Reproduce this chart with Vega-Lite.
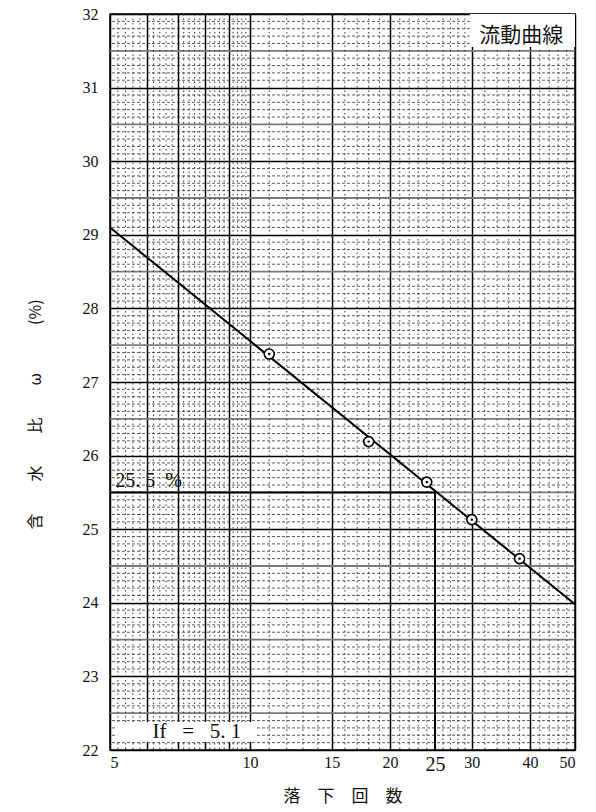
{
  "$schema": "https://vega.github.io/schema/vega-lite/v6.json",
  "width": 465,
  "height": 736,
  "autosize": {"type": "none"},
  "padding": {"left": 110, "top": 14, "right": 21, "bottom": 62},
  "background": "white",
  "config": {
    "view": {"stroke": "black", "strokeWidth": 1.5}
  },
  "datasets": {
    "one": [{}],
    "pts": [
      {"n": 11, "w": 27.38},
      {"n": 18, "w": 26.19},
      {"n": 24, "w": 25.64},
      {"n": 30, "w": 25.13},
      {"n": 38, "w": 24.60}
    ],
    "fit": [
      {"n": 5, "w": 29.10},
      {"n": 50, "w": 23.98}
    ],
    "hTenth": [
      {"w": 22.1},{"w": 22.2},{"w": 22.3},{"w": 22.4},{"w": 22.6},{"w": 22.7},{"w": 22.8},{"w": 22.9},
      {"w": 23.1},{"w": 23.2},{"w": 23.3},{"w": 23.4},{"w": 23.6},{"w": 23.7},{"w": 23.8},{"w": 23.9},
      {"w": 24.1},{"w": 24.2},{"w": 24.3},{"w": 24.4},{"w": 24.6},{"w": 24.7},{"w": 24.8},{"w": 24.9},
      {"w": 25.1},{"w": 25.2},{"w": 25.3},{"w": 25.4},{"w": 25.6},{"w": 25.7},{"w": 25.8},{"w": 25.9},
      {"w": 26.1},{"w": 26.2},{"w": 26.3},{"w": 26.4},{"w": 26.6},{"w": 26.7},{"w": 26.8},{"w": 26.9},
      {"w": 27.1},{"w": 27.2},{"w": 27.3},{"w": 27.4},{"w": 27.6},{"w": 27.7},{"w": 27.8},{"w": 27.9},
      {"w": 28.1},{"w": 28.2},{"w": 28.3},{"w": 28.4},{"w": 28.6},{"w": 28.7},{"w": 28.8},{"w": 28.9},
      {"w": 29.1},{"w": 29.2},{"w": 29.3},{"w": 29.4},{"w": 29.6},{"w": 29.7},{"w": 29.8},{"w": 29.9},
      {"w": 30.1},{"w": 30.2},{"w": 30.3},{"w": 30.4},{"w": 30.6},{"w": 30.7},{"w": 30.8},{"w": 30.9},
      {"w": 31.1},{"w": 31.2},{"w": 31.3},{"w": 31.4},{"w": 31.6},{"w": 31.7},{"w": 31.8},{"w": 31.9}
    ],
    "hHalf": [
      {"w": 22.5},{"w": 23.5},{"w": 24.5},{"w": 25.5},{"w": 26.5},
      {"w": 27.5},{"w": 28.5},{"w": 29.5},{"w": 30.5},{"w": 31.5}
    ],
    "vMinor": [
      {"n": 5.2},{"n": 5.4},{"n": 5.6},{"n": 5.8},
      {"n": 6.2},{"n": 6.4},{"n": 6.6},{"n": 6.8},
      {"n": 7.2},{"n": 7.4},{"n": 7.6},{"n": 7.8},
      {"n": 8.2},{"n": 8.4},{"n": 8.6},{"n": 8.8},
      {"n": 9.2},{"n": 9.4},{"n": 9.6},{"n": 9.8},
      {"n": 11},{"n": 12},{"n": 13},{"n": 14},
      {"n": 16},{"n": 17},{"n": 18},{"n": 19},
      {"n": 21},{"n": 22},{"n": 23},{"n": 24},
      {"n": 26},{"n": 27},{"n": 28},{"n": 29},
      {"n": 32},{"n": 34},{"n": 36},{"n": 38},
      {"n": 42},{"n": 44},{"n": 46},{"n": 48}
    ]
  },
  "layer": [
    {
      "data": {"name": "hTenth"},
      "mark": {"type": "rule", "color": "#333", "strokeWidth": 0.8, "strokeDash": [3, 2]},
      "encoding": {
        "y": {
          "field": "w", "type": "quantitative",
          "scale": {"domain": [22, 32], "nice": false, "zero": false},
          "axis": {
            "values": [22, 23, 24, 25, 26, 27, 28, 29, 30, 31, 32],
            "format": "d",
            "grid": true, "gridColor": "#000", "gridWidth": 1.3,
            "domain": false, "ticks": false,
            "labelFont": "Liberation Serif", "labelColor": "#111",
            "labelFontSize": 16, "labelPadding": 12,
            "title": "含　　水　　比　　ω　　　(%)",
            "titleFont": "Noto Sans CJK JP", "titleFontSize": 16, "titleFontWeight": "normal", "titleColor": "#111",
            "titleX": -75, "titleY": 400, "titleAngle": -90,
            "titleAlign": "center", "titleBaseline": "middle"
          }
        }
      }
    },
    {
      "data": {"name": "hHalf"},
      "mark": {"type": "rule", "color": "#7a7a7a", "strokeWidth": 1.8},
      "encoding": {"y": {"field": "w", "type": "quantitative"}}
    },
    {
      "data": {"name": "vMinor"},
      "mark": {"type": "rule", "color": "#222", "strokeWidth": 0.9, "strokeDash": [1.5, 3]},
      "encoding": {
        "x": {
          "field": "n", "type": "quantitative",
          "scale": {"type": "log", "domain": [5, 50], "nice": false},
          "axis": {
            "values": [5, 6, 7, 8, 9, 10, 15, 20, 25, 30, 40, 50],
            "format": "d",
            "labelExpr": "datum.value >= 6 && datum.value <= 9 ? '' : datum.label",
            "labelOverlap": false,
            "grid": true, "gridColor": "#000", "gridWidth": 1.5,
            "gridOpacity": {"condition": {"test": "datum.value == 25", "value": 0}, "value": 1},
            "domain": false, "ticks": false,
            "labelFont": "Liberation Serif", "labelColor": "#111",
            "labelFontSize": {"condition": {"test": "datum.value == 25", "value": 20}, "value": 16},
            "labelPadding": 4,
            "title": "落　下　回　数",
            "titleFont": "Noto Sans CJK JP", "titleFontSize": 17, "titleFontWeight": "normal", "titleColor": "#111",
            "titlePadding": 14
          }
        }
      }
    },
    {
      "data": {"name": "one"},
      "mark": {"type": "rule", "color": "#000", "strokeWidth": 2},
      "encoding": {
        "x": {"datum": 5, "type": "quantitative"},
        "x2": {"datum": 25},
        "y": {"datum": 25.5, "type": "quantitative"}
      }
    },
    {
      "data": {"name": "one"},
      "mark": {"type": "rule", "color": "#000", "strokeWidth": 2},
      "encoding": {
        "x": {"datum": 25, "type": "quantitative"},
        "y": {"datum": 22, "type": "quantitative"},
        "y2": {"datum": 25.5}
      }
    },
    {
      "data": {"name": "one"},
      "mark": {"type": "rect", "fill": "white"},
      "encoding": {
        "x": {"datum": 29.7, "type": "quantitative"},
        "x2": {"datum": 50},
        "y": {"datum": 32, "type": "quantitative"},
        "y2": {"datum": 31.55}
      }
    },
    {
      "data": {"name": "one"},
      "mark": {"type": "rect", "fill": "white"},
      "encoding": {
        "x": {"datum": 5.18, "type": "quantitative"},
        "x2": {"datum": 10.3},
        "y": {"datum": 22.11, "type": "quantitative"},
        "y2": {"datum": 22.38}
      }
    },
    {
      "data": {"name": "fit"},
      "mark": {"type": "line", "color": "#000", "strokeWidth": 2},
      "encoding": {
        "x": {"field": "n", "type": "quantitative"},
        "y": {"field": "w", "type": "quantitative"}
      }
    },
    {
      "data": {"name": "pts"},
      "mark": {"type": "point", "shape": "circle", "filled": true, "fill": "white", "stroke": "#000", "strokeWidth": 1.6, "size": 100, "opacity": 1},
      "encoding": {
        "x": {"field": "n", "type": "quantitative"},
        "y": {"field": "w", "type": "quantitative"}
      }
    },
    {
      "data": {"name": "pts"},
      "mark": {"type": "point", "shape": "circle", "filled": true, "color": "#000", "size": 6, "opacity": 1},
      "encoding": {
        "x": {"field": "n", "type": "quantitative"},
        "y": {"field": "w", "type": "quantitative"}
      }
    },
    {
      "data": {"name": "one"},
      "mark": {"type": "text", "text": "流動曲線", "font": "Noto Sans CJK JP", "fontSize": 21, "align": "center", "baseline": "middle", "color": "#111"},
      "encoding": {
        "x": {"datum": 38.3, "type": "quantitative"},
        "y": {"datum": 31.70, "type": "quantitative"}
      }
    },
    {
      "data": {"name": "one"},
      "mark": {"type": "text", "text": "25.\u00a05\u00a0\u00a0%", "font": "Liberation Serif", "fontSize": 20, "align": "left", "baseline": "alphabetic", "color": "#111"},
      "encoding": {
        "x": {"datum": 5.13, "type": "quantitative"},
        "y": {"datum": 25.573, "type": "quantitative"}
      }
    },
    {
      "data": {"name": "one"},
      "mark": {"type": "text", "text": "If\u00a0\u00a0\u00a0=\u00a0\u00a0\u00a05.\u00a01", "font": "Liberation Serif", "fontSize": 21, "align": "center", "baseline": "middle", "color": "#111"},
      "encoding": {
        "x": {"datum": 7.69, "type": "quantitative"},
        "y": {"datum": 22.245, "type": "quantitative"}
      }
    }
  ]
}
